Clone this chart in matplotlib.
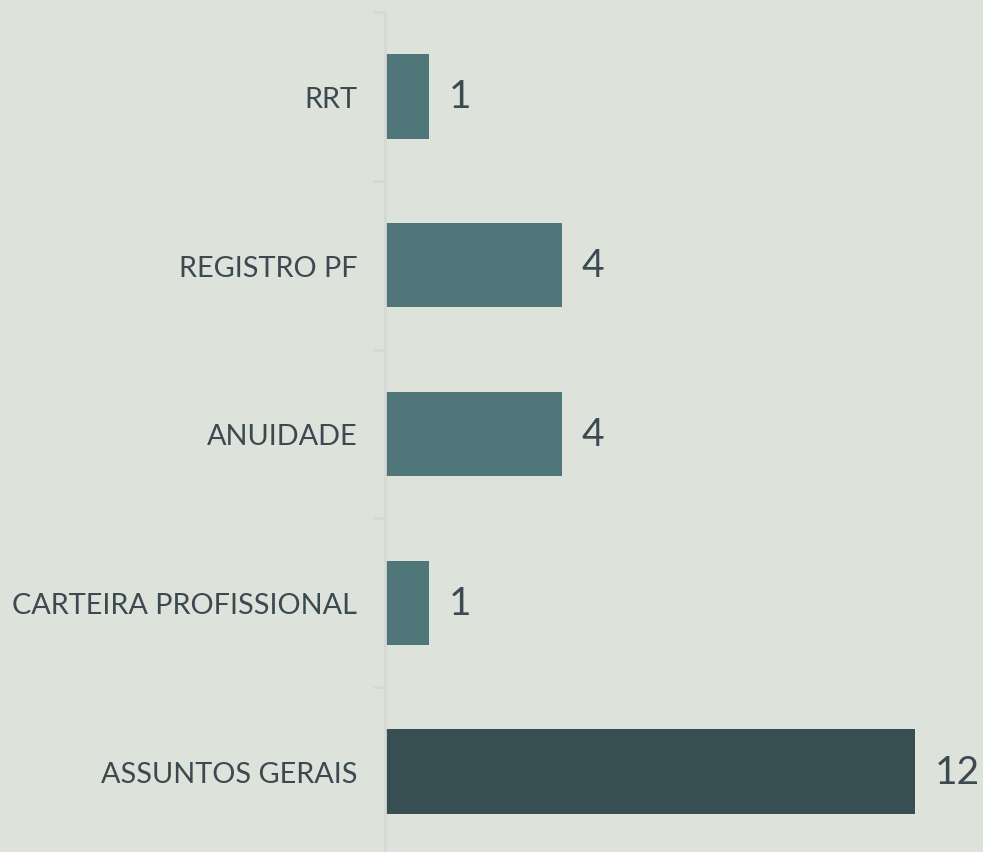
import numpy as np
import matplotlib.pyplot as plt

categories = ['RRT', 'REGISTRO PF', 'ANUIDADE', 'CARTEIRA PROFISSIONAL', 'ASSUNTOS GERAIS']
values = [1, 4, 4, 1, 12]
colors = ['#4F7679', '#4F7679', '#4F7679', '#4F7679', '#374F52']

bg = '#DDE2DB'
txt = '#3B4A50'

plt.rcParams['font.family'] = ['Lato', 'DejaVu Sans']

fig = plt.figure(figsize=(9.83, 8.53), dpi=100, facecolor=bg)
W, H = 983, 853
ax = fig.add_axes([385 / W, (H - 857) / H, (W - 385) / W, (857 - 13) / H])
ax.set_facecolor(bg)

y = np.arange(len(categories))
bars = ax.barh(y, values, height=0.5, color=colors)
ax.bar_label(bars, labels=[str(v) for v in values], padding=14,
             fontsize=28, color=txt)

ax.set_ylim(len(categories) - 0.5, -0.5)
ax.set_xlim(0, (W - 385) / 44.17)

ax.set_yticks(y)
ax.set_yticklabels(categories, fontsize=20.8, color=txt)
ax.tick_params(axis='y', which='major', length=0, pad=20)
ax.set_yticks(np.arange(len(categories) + 1) - 0.5, minor=True)
ax.tick_params(axis='y', which='minor', length=9, width=2, color='#D6D8D6')
ax.set_xticks([])

for s in ['top', 'right', 'bottom']:
    ax.spines[s].set_visible(False)
ax.spines['left'].set_color('#D6D8D6')
ax.spines['left'].set_linewidth(2)

fig.savefig('out.png', dpi=100, facecolor=bg)
